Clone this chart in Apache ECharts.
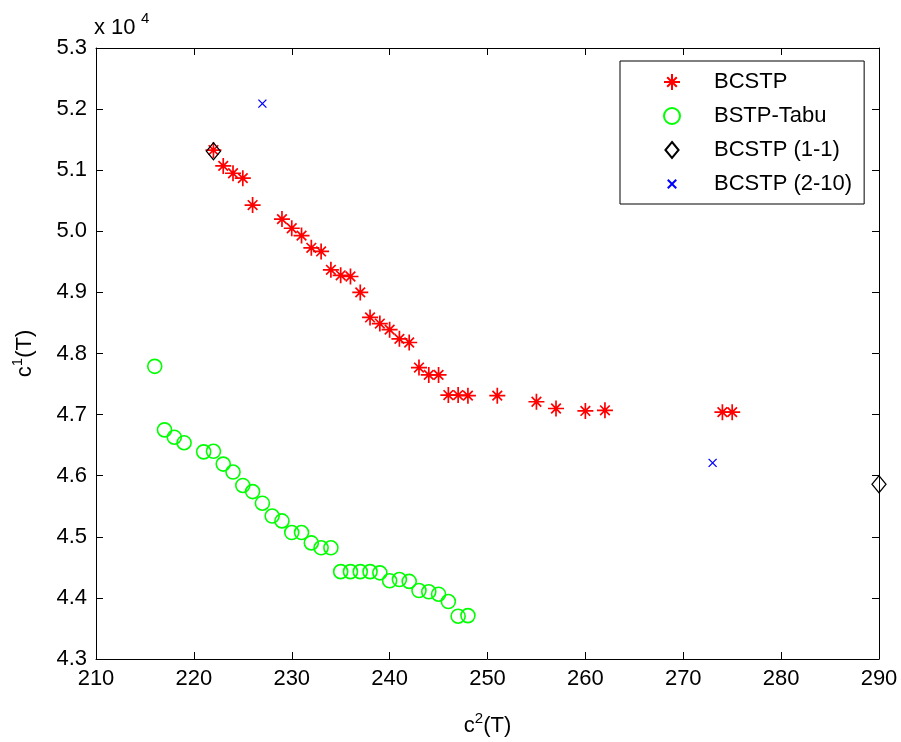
<!DOCTYPE html>
<html>
<head>
<meta charset="utf-8">
<script src="https://cdn.jsdelivr.net/npm/echarts@6/dist/echarts.min.js"></script>
<style>
html,body{margin:0;padding:0;background:#fff;}
#chart{width:901px;height:742px;}
</style>
</head>
<body>
<div id="chart"></div>
<script>
// ---- data (c2(T), c1(T)) ----
const bcstpX = [222,223,224,225,226,229,230,231,232,233,234,235,236,237,238,239,240,241,242,243,244,245,246,247,248,251,255,257,260,262,274,275];
const bcstpY = [51330,51070,50950,50870,50430,50200,50050,49930,49730,49670,49370,49280,49260,49000,48590,48490,48390,48240,48180,47770,47650,47650,47320,47320,47310,47310,47210,47100,47060,47070,47040,47040];

const tabuX = [216,217,218,219,221,222,223,224,225,226,227,228,229,230,231,232,233,234,235,236,237,238,239,240,241,242,243,244,245,246,247,248];
const tabuY = [47790,46750,46630,46540,46390,46400,46190,46060,45840,45740,45550,45340,45260,45070,45070,44900,44820,44820,44430,44430,44430,44430,44410,44280,44300,44270,44120,44100,44060,43940,43700,43710];

const bc11X = [222, 290];
const bc11Y = [51310, 45860];

const bc210X = [227, 273];
const bc210Y = [52090, 46210];

const seriesNames = ['BCSTP', 'BSTP-Tabu', 'BCSTP (1-1)', 'BCSTP (2-10)'];
const xTicks = [210,220,230,240,250,260,270,280,290];
const yTicks = [43000,44000,45000,46000,47000,48000,49000,50000,51000,52000,53000];

function pairs(xs, ys){ return xs.map((x,i)=>[x, ys[i]]); }

const FONT = '"Liberation Sans", Arial, Helvetica, sans-serif';
const FS = 22;

const chart = echarts.init(document.getElementById('chart'), null, {renderer:'canvas'});

const axisCommon = {
  axisLine:{show:true, lineStyle:{color:'#000', width:1}},
  axisTick:{show:true, inside:true, length:7, lineStyle:{color:'#000', width:1}},
  splitLine:{show:false}
};

const option = {
  animation:false,
  backgroundColor:'#fff',
  grid:{left:96, right:22, top:48, bottom:78, containLabel:false},
  xAxis:[
    Object.assign({
      type:'value', min:xTicks[0], max:xTicks[xTicks.length-1], interval:10, position:'bottom',
      name:'{b|c}{s|2}{b|(T)}', nameLocation:'middle', nameGap:52,
      nameTextStyle:{rich:{
        b:{fontFamily:FONT, fontSize:FS, color:'#000', verticalAlign:'bottom', lineHeight:26},
        s:{fontFamily:FONT, fontSize:15, color:'#000', verticalAlign:'top', lineHeight:26, padding:[0,0,10,0]}
      }},
      axisLabel:{show:true, margin:9, color:'#000', fontFamily:FONT, fontSize:FS}
    }, axisCommon),
    Object.assign({
      type:'value', min:xTicks[0], max:xTicks[xTicks.length-1], interval:10, position:'top',
      axisLabel:{show:false}
    }, axisCommon)
  ],
  yAxis:[
    Object.assign({
      type:'value', min:yTicks[0], max:yTicks[yTicks.length-1], interval:1000, position:'left',
      name:'{b|c}{s|1}{b|(T)}', nameLocation:'middle', nameGap:60, nameRotate:90,
      nameTextStyle:{rich:{
        b:{fontFamily:FONT, fontSize:FS, color:'#000', verticalAlign:'bottom', lineHeight:26},
        s:{fontFamily:FONT, fontSize:15, color:'#000', verticalAlign:'top', lineHeight:26, padding:[0,0,10,0]}
      }},
      axisLabel:{show:true, margin:9, color:'#000', fontFamily:FONT, fontSize:FS,
        formatter:v => (v/10000).toFixed(1)}
    }, axisCommon),
    Object.assign({
      type:'value', min:yTicks[0], max:yTicks[yTicks.length-1], interval:1000, position:'right',
      axisLabel:{show:false}
    }, axisCommon)
  ],
  legend:{
    show:true, orient:'vertical', left:620, top:61,
    data:[
      {name:seriesNames[0]},
      {name:seriesNames[1]},
      {name:seriesNames[2], icon:'path://M-1 0M7 0L14 8.5L7 17L0 8.5Z M15 17'},
      {name:seriesNames[3], icon:'path://M-4 -4M0 0L9 9M0 9L9 0M13 13'}
    ],
    itemWidth:16, itemHeight:16, itemGap:12,
    padding:[10,12,9,43],
    backgroundColor:'#fff',
    borderColor:'#000', borderWidth:1, borderRadius:0,
    textStyle:{fontFamily:FONT, fontSize:FS, color:'#000', lineHeight:22, padding:[0,0,0,29]},
    selectedMode:false
  },
  graphic:[
    {type:'text', left:94, top:17, style:{text:'x 10', font:FS+'px '+FONT, fill:'#000'}},
    {type:'text', left:141, top:11, style:{text:'4', font:'15px '+FONT, fill:'#000'}}
  ],
  series:[
    {
      name:seriesNames[0], type:'scatter', data:pairs(bcstpX, bcstpY),
      symbol:'path://M8 0L8 16M0 8L16 8M3.2 3.2L12.8 12.8M3.2 12.8L12.8 3.2',
      symbolSize:16,
      itemStyle:{color:'#ff0000', borderColor:'#ff0000', borderWidth:1.7, opacity:1}
    },
    {
      name:seriesNames[1], type:'scatter', data:pairs(tabuX, tabuY),
      symbol:'circle', symbolSize:14,
      itemStyle:{color:'rgba(0,0,0,0)', borderColor:'#00ff00', borderWidth:1.6, opacity:1}
    },
    {
      name:seriesNames[2], type:'scatter', data:pairs(bc11X, bc11Y),
      symbol:'diamond', symbolSize:[14,17],
      itemStyle:{color:'rgba(0,0,0,0)', borderColor:'#000', borderWidth:1.3, opacity:1}
    },
    {
      name:seriesNames[3], type:'scatter', data:pairs(bc210X, bc210Y),
      symbol:'path://M0 0L8 8M0 8L8 0',
      symbolSize:8,
      itemStyle:{color:'#0000ff', borderColor:'#0000ff', borderWidth:1.3, opacity:1}
    }
  ]
};
chart.setOption(option);
</script>
</body>
</html>
